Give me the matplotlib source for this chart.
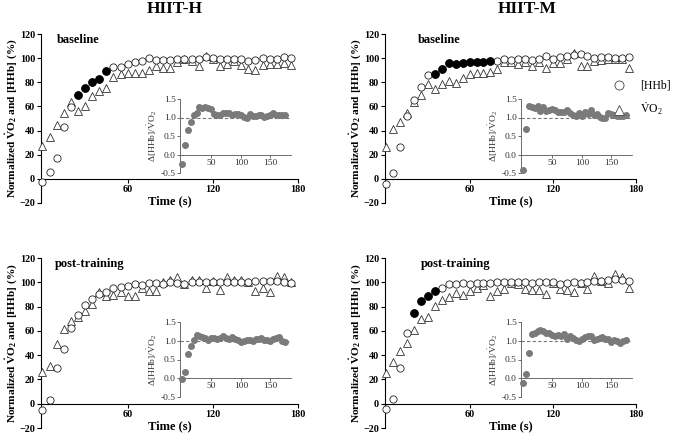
import matplotlib
matplotlib.use("Agg")
import matplotlib.pyplot as plt
from matplotlib.lines import Line2D
import numpy as np

plt.rcParams['font.family'] = ['Liberation Serif', 'DejaVu Serif']
plt.rcParams['mathtext.fontset'] = 'custom'
plt.rcParams['mathtext.rm'] = 'Liberation Serif'
plt.rcParams['mathtext.it'] = 'Liberation Serif:italic'
plt.rcParams['mathtext.bf'] = 'Liberation Serif:bold'

# time (s), one sample every 5 s
tempo = np.arange(36) * 5

# HIIT-H baseline
hhb_h_base = [-3, 5.5, 17, 42.8, 59.3, 69.5, 75, 80.5, 82.5, 89.4, 92.4, 93, 95, 96.5, 97.6, 100,
              98.8, 98.5, 98.5, 99.3, 99.6, 99.6, 99.3, 100.7, 99.9, 99.3, 99.6, 99.6, 99.3, 97.6,
              98.8, 100, 99.3, 99.6, 100.7, 99.9]
vo2_h_base = [27, 35, 44.7, 54.6, 64, 56.5, 60, 68.4, 73, 75.3, 84, 87, 87.4, 87.4, 87.4, 90,
              93.8, 92, 91.6, 96.5, 99, 98, 93.8, 101.5, 99, 93.8, 95, 98, 94.5, 91, 90, 94.5,
              95, 95, 96, 94.5]
filled_h_base = [5, 6, 7, 8, 9]
ratio_h_base = [-0.25, 0.25, 0.65, 0.88, 1.08, 1.13, 1.28, 1.25, 1.28, 1.27, 1.22, 1.10, 1.06,
                1.08, 1.12, 1.13, 1.12, 1.07, 1.09, 1.10, 1.06, 1.02, 1.00, 1.10, 1.03, 1.04,
                1.08, 1.06, 1.02, 1.05, 1.08, 1.12, 1.06, 1.08, 1.06, 1.07]

# HIIT-M baseline
hhb_m_base = [-4.5, 5, 26, 52, 65.6, 76, 85.7, 87, 91, 96, 95, 96, 97, 97, 97, 98,
              97.8, 99.7, 98.6, 99.7, 99.2, 98.6, 99.7, 101.4, 99.7, 100.6, 101.4, 102.5,
              103.6, 102, 100.3, 100.6, 100.6, 100.3, 100.3, 100.6]
vo2_m_base = [26.5, 41.3, 47.5, 54.5, 64, 69.8, 78.2, 74.6, 78.2, 81, 79, 83.8, 86.6, 87.4,
              87.4, 88.5, 90.8, 96.4, 97, 95, 97, 93.6, 96.4, 92.2, 95.8, 95.8, 99.7, 104,
              93.6, 93.6, 97.8, 98.6, 99.2, 99.7, 99.2, 92.2]
filled_m_base = [7, 8, 9, 10, 11, 12, 13, 14, 15]
ratio_m_base = [-0.43, 0.70, 1.30, 1.29, 1.27, 1.31, 1.17, 1.29, 1.18, 1.19, 1.22, 1.20, 1.16,
                1.14, 1.15, 1.19, 1.11, 1.07, 1.05, 1.12, 1.05, 1.15, 1.09, 1.20, 1.07, 1.10,
                1.01, 0.99, 1.00, 1.12, 1.09, 1.06, 1.04, 1.03, 1.04, 1.08]

# HIIT-H post-training
hhb_h_post = [-5.5, 2.8, 29.5, 44.7, 62, 73, 81.4, 86.3, 90.5, 92.4, 95.2, 96.5, 97.1, 98.2,
              97.4, 99.3, 99.3, 98.5, 99.9, 99.3, 98.5, 100.1, 100.1, 100.1, 100.4, 100.1,
              100.4, 100.4, 99.9, 99.9, 101.2, 100.7, 100.7, 101.2, 100.4, 99.3]
vo2_h_post = [26.2, 31.2, 48.8, 61.2, 68.4, 71.7, 76.7, 81.9, 91.6, 88.3, 89.4, 92.1, 88.8,
              88.3, 95.2, 92.7, 92.7, 99.9, 102, 104.3, 98.8, 102, 101.5, 95.2, 101.2, 93.8,
              104, 102, 102, 100.4, 93.2, 95.7, 92.4, 105.4, 104.3, 99.9]
filled_h_post = []
ratio_h_post = [-0.03, 0.17, 0.65, 0.87, 1.03, 1.16, 1.12, 1.10, 1.08, 1.02, 1.08, 1.07, 1.06,
                1.07, 1.12, 1.08, 1.05, 1.10, 1.06, 1.02, 0.98, 1.00, 1.03, 1.02, 1.00, 1.05,
                1.04, 1.08, 1.01, 1.03, 1.00, 1.05, 1.08, 1.10, 0.99, 0.97]

# HIIT-M post-training
hhb_m_post = [-4, 4, 29, 58.5, 75, 84.7, 88.8, 93.2, 95.7, 98.5, 98.5, 99, 98.5, 99, 99.3,
              99.3, 99.9, 100.1, 99.9, 100.4, 100.1, 99.3, 99.9, 99.9, 99.9, 98.8, 99.3, 99.9,
              99.3, 100.1, 101.2, 101.2, 102, 102.6, 102, 100.7]
vo2_m_post = [25.7, 34.5, 43.3, 49.7, 60.7, 69.5, 71.7, 80.8, 85, 87.7, 91, 89.6, 93, 95.7,
              97.9, 88.3, 93, 94.3, 99.3, 98.5, 94.6, 93.8, 93.8, 90.5, 99.3, 94.6, 93.8, 92.1,
              99.3, 94.6, 105.4, 101.2, 99.3, 106.8, 104, 95.2]
filled_m_post = [4, 5, 6, 7]
ratio_m_post = [-0.12, 0.12, 0.67, 1.19, 1.22, 1.25, 1.28, 1.27, 1.22, 1.20, 1.15, 1.14, 1.15,
                1.13, 1.18, 1.05, 1.12, 1.08, 1.02, 1.00, 1.04, 1.10, 1.14, 1.12, 1.02, 1.05,
                1.08, 1.10, 1.06, 1.05, 0.98, 1.02, 1.00, 0.95, 1.00, 1.02]

W, H = 685, 438
fig = plt.figure(figsize=(W / 100, H / 100), dpi=100)


def px_box(x0, y0, x1, y1):
    # pixel box (top-left origin) -> figure fraction rect
    return [x0 / W, 1 - y1 / H, (x1 - x0) / W, (y1 - y0) / H]


def painel(rect, inset_rect, hhb, vo2, filled, ratio, rotulo, rot_x):
    ax = fig.add_axes(rect)
    ax.plot(tempo, vo2, linestyle='none', marker='^', markersize=5.6, markerfacecolor='white',
            markeredgecolor='#333333', markeredgewidth=0.6, zorder=3, clip_on=False)
    ax.plot(tempo, hhb, linestyle='none', marker='o', markersize=5.2, markerfacecolor='white',
            markeredgecolor='#222222', markeredgewidth=0.6, zorder=4, clip_on=False)
    if filled:
        idx = np.array(filled)
        ax.plot(tempo[idx], np.array(hhb)[idx], linestyle='none', marker='o', markersize=5.2,
                color='black', zorder=5)
    ax.set_xlim(-1, 180)
    ax.set_ylim(-20, 120)
    ax.spines['top'].set_visible(False)
    ax.spines['right'].set_visible(False)
    ax.spines['bottom'].set_position(('data', 0))
    ax.set_xticks([60, 120, 180])
    ax.set_yticks(np.arange(-20, 121, 20))
    ax.tick_params(direction='out', length=3, width=0.8, labelsize=7.3, pad=1.2)
    for lab in ax.get_xticklabels() + ax.get_yticklabels():
        lab.set_fontweight('bold')
    ax.set_xlabel('Time (s)', fontsize=9, fontweight='bold', labelpad=1)
    ax.set_ylabel(r'Normalized $\mathbf{\dot{V}}$O$_\mathbf{2}$ and [HHb] (%)', fontsize=8.2,
                  fontweight='bold', labelpad=0.5)
    ax.text(rot_x, 115, rotulo, fontsize=9, fontweight='bold', va='center', ha='left')

    axi = fig.add_axes(inset_rect)
    axi.patch.set_alpha(0)
    axi.axhline(1.0, color='#777777', linestyle='--', linewidth=0.8, dashes=(3, 2), zorder=1)
    axi.plot(tempo, ratio, linestyle='none', marker='o', markersize=4.0, color='#7a7a7a',
             zorder=3, clip_on=False)
    axi.set_xlim(-3, 185)
    axi.set_ylim(-0.5, 1.5)
    axi.spines['top'].set_visible(False)
    axi.spines['right'].set_visible(False)
    axi.spines['bottom'].set_position(('data', 0))
    for s in axi.spines.values():
        s.set_linewidth(0.6)
        s.set_color('#555555')
    axi.set_xticks([50, 100, 150])
    axi.set_yticks([-0.5, 0.0, 0.5, 1.0, 1.5])
    axi.yaxis.set_major_formatter(matplotlib.ticker.FormatStrFormatter('%.1f'))
    axi.tick_params(direction='out', length=2, width=0.6, labelsize=6.8, pad=1, colors='#555555',
                    labelcolor='#333333')
    axi.set_ylabel('Δ[HHb]/' + r'$\dot{\mathrm{V}}$O$_2$', fontsize=6.8, labelpad=1,
                   color='#333333')
    return ax


painel(px_box(41, 34, 298, 203), px_box(180, 99, 291, 173),
       hhb_h_base, vo2_h_base, filled_h_base, ratio_h_base, 'baseline', 10)
painel(px_box(385, 34, 636, 203), px_box(521, 99, 632, 173),
       hhb_m_base, vo2_m_base, filled_m_base, ratio_m_base, 'baseline', 23)
painel(px_box(41, 258, 298, 428), px_box(180, 322, 291, 397),
       hhb_h_post, vo2_h_post, filled_h_post, ratio_h_post, 'post-training', 9)
painel(px_box(385, 258, 636, 428), px_box(521, 322, 632, 397),
       hhb_m_post, vo2_m_post, filled_m_post, ratio_m_post, 'post-training', 25)

fig.text(175 / W, 1 - 9 / H, 'HIIT-H', fontsize=12.5, fontweight='bold', ha='center', va='center')
fig.text(527 / W, 1 - 9 / H, 'HIIT-M', fontsize=12.5, fontweight='bold', ha='center', va='center')

handles = [Line2D([], [], linestyle='none', marker='o', markersize=6.5, markerfacecolor='white',
                  markeredgecolor='#444444', markeredgewidth=0.6),
           Line2D([], [], linestyle='none', marker='^', markersize=6.5, markerfacecolor='white',
                  markeredgecolor='#444444', markeredgewidth=0.6)]
fig.legend(handles, ['[HHb]', r'$\dot{\mathrm{V}}$O$_2$'], loc='upper left',
           bbox_to_anchor=(612 / W, 1 - 80 / H), frameon=False, fontsize=8.5,
           handlelength=1.2, handletextpad=1.2, labelspacing=0.75, borderpad=0, borderaxespad=0)

fig.savefig('out.png', dpi=100)
